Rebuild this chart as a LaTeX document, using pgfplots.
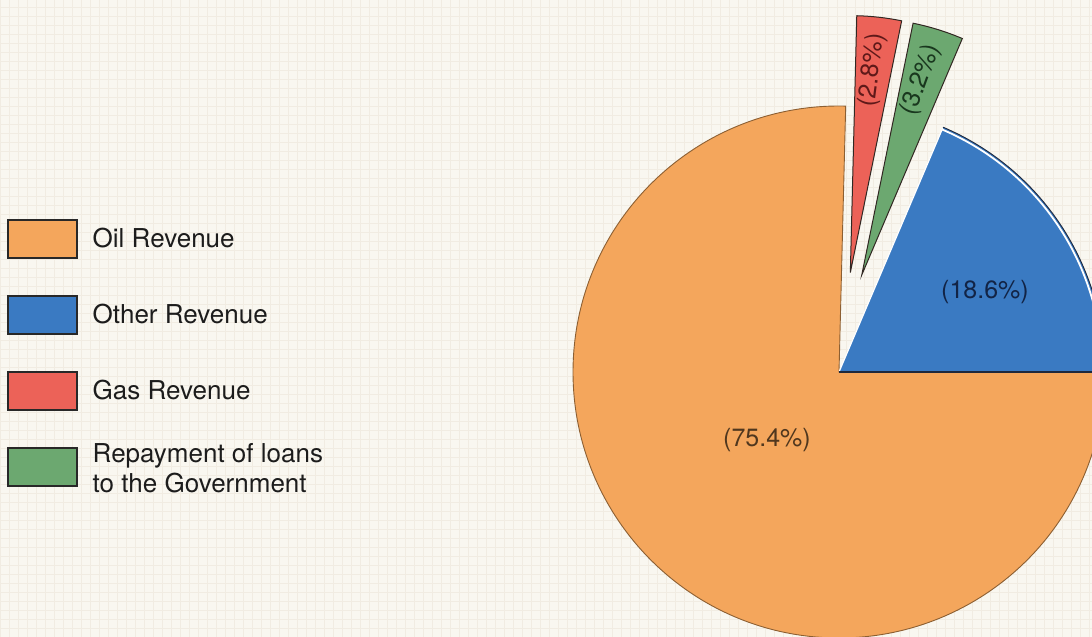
\documentclass[border=0pt]{standalone}
\usepackage{fontspec}
\setmainfont{TeX Gyre Heros}
\usepackage{pgfplots}
\usepackage{pgfplotstable}
\pgfplotsset{compat=1.18}

\definecolor{bgc}{RGB}{249,247,240}
\definecolor{gridc}{RGB}{241,236,226}
\definecolor{oilc}{RGB}{244,166,92}
\definecolor{otherc}{RGB}{58,122,194}
\definecolor{gasc}{RGB}{236,98,88}
\definecolor{repayc}{RGB}{108,168,112}
\definecolor{oiledge}{RGB}{140,95,50}
\definecolor{blueedge}{RGB}{30,40,60}
\definecolor{wedgeedge}{RGB}{50,40,35}
\definecolor{legedge}{RGB}{40,40,40}
\definecolor{legtext}{RGB}{28,28,28}
\definecolor{oiltext}{RGB}{80,55,30}
\definecolor{othertext}{RGB}{18,36,70}
\definecolor{gastext}{RGB}{95,25,25}
\definecolor{repaytext}{RGB}{25,55,30}

\newcommand\legfont{\fontsize{26}{30}\selectfont}
\newcommand\labfont{\fontsize{25}{30}\selectfont}

% share of each source (percent), explosion distance (px) and direction (deg)
\pgfplotstableread{
label value explode dir
Other 18.6 0 0
Repay 3.2 99.6 76.8
Gas 2.8 100 83.5
Oil 75.4 0 0
}\piedata

\pgfplotstablegetelem{0}{value}\of\piedata \edef\vOther{\pgfplotsretval}
\pgfplotstablegetelem{1}{value}\of\piedata \edef\vRepay{\pgfplotsretval}
\pgfplotstablegetelem{2}{value}\of\piedata \edef\vGas{\pgfplotsretval}
\pgfplotstablegetelem{3}{value}\of\piedata \edef\vOil{\pgfplotsretval}
\pgfplotstablegetelem{1}{explode}\of\piedata \edef\eRepay{\pgfplotsretval}
\pgfplotstablegetelem{2}{explode}\of\piedata \edef\eGas{\pgfplotsretval}
\pgfplotstablegetelem{1}{dir}\of\piedata \edef\dRepay{\pgfplotsretval}
\pgfplotstablegetelem{2}{dir}\of\piedata \edef\dGas{\pgfplotsretval}

\pgfmathsetmacro\aA{3.6*\vOther}
\pgfmathsetmacro\aB{\aA+3.6*\vRepay}
\pgfmathsetmacro\aC{\aB+3.6*\vGas}
\pgfmathsetmacro\aD{\aC+3.6*\vOil}

\begin{document}
\begin{tikzpicture}
\begin{axis}[
  x=1pt, y=1pt,
  xmin=0, xmax=1092, ymin=0, ymax=637,
  hide axis,
  clip=true,
  legend image code/.code={\draw[#1] (0pt,-19pt) rectangle (69pt,19pt);},
  legend cell align=left,
  legend style={at={(0.006639,0.655808)}, anchor=north west,
    draw=none, fill=none, inner sep=0pt, outer sep=0pt,
    row sep=36.5pt, column sep=15pt, font=\legfont,
    nodes={inner sep=0pt, outer sep=0pt, text height=18pt, text depth=0pt, text=legtext}},
]
\coordinate (LL) at (rel axis cs:0,0);
\coordinate (UR) at (rel axis cs:1,1);
\fill[bgc] (axis cs:0,0) rectangle (axis cs:1092,637);
\draw[gridc, line width=0.5pt, step=9pt] (axis cs:0,0) grid (axis cs:1092,637);

% Oil revenue
\filldraw[fill=oilc, draw=oiledge, line width=0.9pt]
  (axis cs:839,265) -- ++(\aC:266pt) arc[start angle=\aC, end angle=\aD, radius=266pt] -- cycle;
% Other revenue
\fill[otherc]
  (axis cs:839,265) -- ++(0:266pt) arc[start angle=0, end angle=\aA, radius=266pt] -- cycle;
\draw[white, line width=1.8pt]
  ([shift={(0:263.5pt)}]axis cs:839,265) arc[start angle=0, end angle=\aA, radius=263.5pt];
\draw[blueedge, line width=0.9pt]
  ([shift={(0:266pt)}]axis cs:839,265) arc[start angle=0, end angle=\aA, radius=266pt];
\draw[white, line width=1.2pt] ([shift={(\aA:1pt)}]axis cs:839,265) -- ++(\aA:264pt);
\draw[blueedge, line width=2.4pt] (axis cs:839,265) -- ++(0:270pt);
% Repayment of loans (exploded)
\filldraw[fill=repayc, draw=wedgeedge, line width=1pt, shift={(\dRepay:\eRepay pt)}]
  (axis cs:839,265) -- ++(\aA:257pt) arc[start angle=\aA, end angle=\aB, radius=257pt] -- cycle;
% Gas revenue (exploded)
\filldraw[fill=gasc, draw=wedgeedge, line width=1pt, shift={(\dGas:\eGas pt)}]
  (axis cs:839,265) -- ++(\aB:257pt) arc[start angle=\aB, end angle=\aC, radius=257pt] -- cycle;

% labels
\node[font=\labfont, text=oiltext] at (axis cs:767,197) {(\vOil\%)};
\node[font=\labfont, text=othertext] at (axis cs:985,345) {(\vOther\%)};
\node[font=\labfont, text=gastext, rotate=82.6] at (axis cs:872.5,567) {(\vGas\%)};
\node[font=\labfont, text=repaytext, rotate=70] at (axis cs:921,557) {(\vRepay\%)};

% legend
\addlegendimage{fill=oilc, draw=legedge, line width=1.5pt}
\addlegendentry{Oil Revenue}
\addlegendimage{fill=otherc, draw=legedge, line width=1.5pt}
\addlegendentry{Other Revenue}
\addlegendimage{fill=gasc, draw=legedge, line width=1.5pt}
\addlegendentry{Gas Revenue}
\addlegendimage{fill=repayc, draw=legedge, line width=1.5pt}
\addlegendentry{\raisebox{13pt}{\begin{tabular}[t]{@{}l@{}}Repayment of loans\\to the Government\end{tabular}}}
\end{axis}
\pgfresetboundingbox
\path (LL) rectangle (UR);
\end{tikzpicture}
\end{document}
